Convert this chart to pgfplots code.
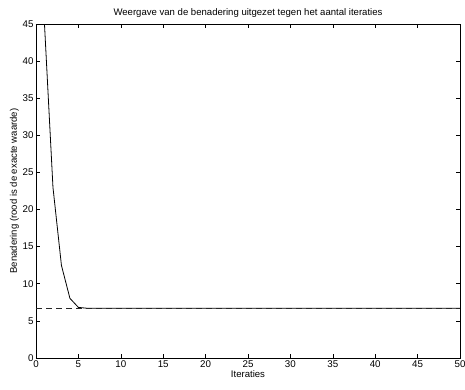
\documentclass[border=0pt]{standalone}
\usepackage{pgfplots}
\pgfplotsset{compat=1.18}
\usepackage{fontspec}
\setmainfont{Liberation Sans}
\begin{document}
\begin{tikzpicture}[x=1bp,y=1bp]
\begin{axis}[
  scale only axis,
  width=424bp, height=334bp,
  xmin=0, xmax=50, ymin=0, ymax=45,
  xtick={0,5,...,50}, ytick={0,5,...,45},
  tick align=inside,
  major tick length=4bp,
  axis line style={line width=1pt},
  every tick/.style={black, line width=0.6pt},
  tick label style={font=\fontsize{9.8}{11}\selectfont},
  /pgf/number format/assume math mode=true,
  title={Weergave van de benadering uitgezet tegen het aantal iteraties},
  title style={font=\fontsize{9.6}{11}\selectfont, yshift=-3bp},
  xlabel={Iteraties},
  ylabel={Benadering (rood is de exacte waarde)},
  label style={font=\fontsize{9.6}{11}\selectfont},
  xlabel style={yshift=4bp},
  ylabel style={yshift=-3bp},
  xticklabel style={yshift=1bp},
  yticklabel style={xshift=1bp},
]
\addplot[black, line width=0.8pt] coordinates {
(1,45) (2,23) (3,12.478) (4,8.042) (5,6.819) (6,6.709) (7,6.7082) (8,6.7082)
(9,6.7082) (10,6.7082) (11,6.7082) (12,6.7082) (13,6.7082) (14,6.7082) (15,6.7082)
(16,6.7082) (17,6.7082) (18,6.7082) (19,6.7082) (20,6.7082) (21,6.7082) (22,6.7082)
(23,6.7082) (24,6.7082) (25,6.7082) (26,6.7082) (27,6.7082) (28,6.7082) (29,6.7082)
(30,6.7082) (31,6.7082) (32,6.7082) (33,6.7082) (34,6.7082) (35,6.7082) (36,6.7082)
(37,6.7082) (38,6.7082) (39,6.7082) (40,6.7082) (41,6.7082) (42,6.7082) (43,6.7082)
(44,6.7082) (45,6.7082) (46,6.7082) (47,6.7082) (48,6.7082) (49,6.7082) (50,6.7082)
};
\addplot[black!85, line width=0.7pt, dash pattern=on 6bp off 4bp] coordinates {
(0,6.7082) (50,6.7082)
};
\coordinate (bl) at (rel axis cs:0,0);
\coordinate (tr) at (rel axis cs:1,1);
\end{axis}
\pgfresetboundingbox
\path ([shift={(-36bp,-31bp)}]bl) rectangle ([shift={(5bp,24bp)}]tr);
\end{tikzpicture}
\end{document}
